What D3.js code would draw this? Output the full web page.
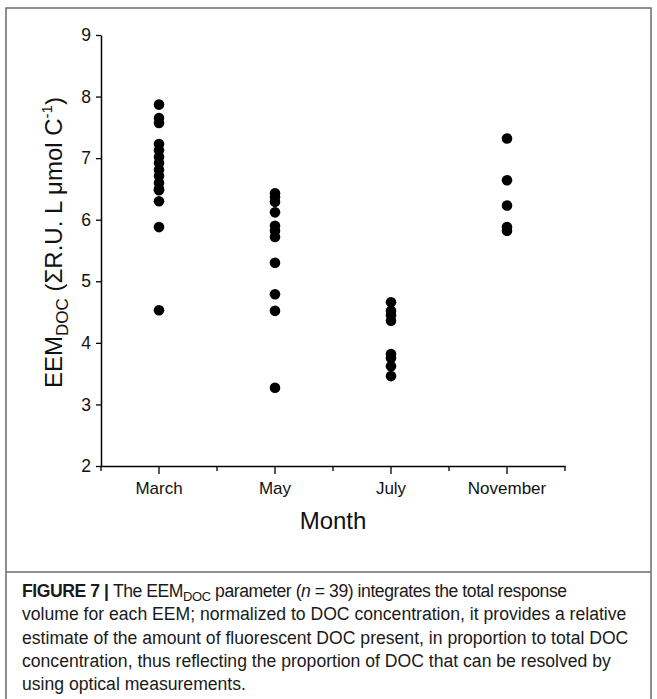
<!DOCTYPE html>
<html>
<head>
<meta charset="utf-8">
<script src="https://cdn.jsdelivr.net/npm/d3@7"></script>
<style>
  html, body { margin: 0; padding: 0; background: #fff; }
  svg { display: block; }
</style>
</head>
<body>
<svg id="chart" width="657" height="699"></svg>
<script>
const months = ["March", "May", "July", "November"];
const marchValues = [7.87, 7.65, 7.57, 7.23, 7.13, 7.02, 6.92, 6.81, 6.71, 6.60, 6.50, 6.48, 6.30, 5.88, 4.53];
const mayValues = [6.43, 6.37, 6.29, 6.12, 5.90, 5.82, 5.72, 5.30, 4.79, 4.52, 3.27];
const julyValues = [4.66, 4.52, 4.45, 4.36, 3.82, 3.75, 3.62, 3.46];
const novemberValues = [7.32, 6.64, 6.23, 5.88, 5.82];
const yTicks = [2, 3, 4, 5, 6, 7, 8, 9];
const xTitle = "Month";

const seriesByMonth = { March: marchValues, May: mayValues, July: julyValues, November: novemberValues };
const points = [];
months.forEach(m => seriesByMonth[m].forEach(v => points.push({ month: m, value: v })));

const svg = d3.select("#chart");
const font = "'Liberation Sans', Arial, sans-serif";

// frame
svg.append("rect").attr("x", 6).attr("y", 8).attr("width", 645).attr("height", 700)
  .attr("fill", "none").attr("stroke", "#6b6b6b").attr("stroke-width", 1.5);
svg.append("line").attr("x1", 6).attr("x2", 651).attr("y1", 572).attr("y2", 572)
  .attr("stroke", "#6b6b6b").attr("stroke-width", 1.5);

const pLeft = 101, pRight = 565, pTop = 35, pBottom = 466;
const x = d3.scaleBand().domain(months).range([pLeft, pRight]).padding(0);
const y = d3.scaleLinear().domain([2, 9]).range([pBottom, pTop]);

const g = svg.append("g");

// y axis
const yAxis = g.append("g").attr("transform", `translate(${pLeft},0)`)
  .call(d3.axisLeft(y).tickValues(yTicks).tickFormat(d3.format("d")).tickSize(5).tickSizeOuter(0));
yAxis.select(".domain").attr("stroke", "#000").attr("stroke-width", 1.5);
yAxis.selectAll(".tick line").attr("stroke", "#000").attr("stroke-width", 1.3);
yAxis.selectAll(".tick text").attr("font-family", font).attr("font-size", 17.5).attr("fill", "#111").attr("dx", -2);

// x axis: major ticks at category centres
const xAxis = g.append("g").attr("transform", `translate(0,${pBottom})`)
  .call(d3.axisBottom(x).tickSize(8).tickSizeOuter(0));
xAxis.select(".domain").attr("stroke", "#000").attr("stroke-width", 1.5);
xAxis.selectAll(".tick line").attr("stroke", "#000").attr("stroke-width", 1.3);
xAxis.selectAll(".tick text").attr("font-family", font).attr("font-size", 17).attr("fill", "#111").attr("dy", "1.0em");

// minor ticks at band boundaries
const edges = months.map(m => x(m)).concat([x(months[months.length - 1]) + x.bandwidth()]);
g.selectAll("line.minor").data(edges).enter().append("line")
  .attr("class", "minor")
  .attr("x1", d => d).attr("x2", d => d)
  .attr("y1", pBottom).attr("y2", pBottom + 5)
  .attr("stroke", "#000").attr("stroke-width", 1.3);

// points
g.selectAll("circle.pt").data(points).enter().append("circle")
  .attr("class", "pt")
  .attr("cx", d => x(d.month) + x.bandwidth() / 2)
  .attr("cy", d => y(d.value))
  .attr("r", 5.3)
  .attr("fill", "#000");

// x title
svg.append("text").attr("x", (pLeft + pRight) / 2).attr("y", 529)
  .attr("text-anchor", "middle").attr("font-family", font).attr("font-size", 24).attr("fill", "#111")
  .text(xTitle);

// y title
const yt = svg.append("text")
  .attr("transform", `translate(62,${(pTop + pBottom) / 2 - 8}) rotate(-90)`)
  .attr("text-anchor", "middle").attr("font-family", font).attr("font-size", 24).attr("fill", "#111");
yt.append("tspan").text("EEM");
yt.append("tspan").attr("font-size", 17).attr("dy", 6).text("DOC");
yt.append("tspan").attr("dy", -6).text(" (ΣR.U. L μmol C");
yt.append("tspan").attr("font-size", 15).attr("dy", -10).text("-1");
yt.append("tspan").attr("dy", 10).text(")");

// caption
const capFont = "'Liberation Sans', Arial, sans-serif";
const capX = 22, capY0 = 597, capDy = 23.3, capSize = 17.6;
const cap = svg.append("g").attr("font-family", capFont).attr("font-size", capSize).attr("fill", "#1a1a1a");
const l1 = cap.append("text").attr("x", capX).attr("y", capY0).attr("letter-spacing", -0.45);
l1.append("tspan").attr("font-weight", "bold").text("FIGURE 7 | ");
l1.append("tspan").text("The EEM");
l1.append("tspan").attr("font-size", 13).attr("dy", 4).text("DOC");
l1.append("tspan").attr("dy", -4).text(" parameter (");
l1.append("tspan").attr("font-style", "italic").text("n");
l1.append("tspan").text(" = 39) integrates the total response");
const restLines = [
  "volume for each EEM; normalized to DOC concentration, it provides a relative",
  "estimate of the amount of fluorescent DOC present, in proportion to total DOC",
  "concentration, thus reflecting the proportion of DOC that can be resolved by",
  "using optical measurements."
];
restLines.forEach((t, i) => {
  cap.append("text").attr("x", capX).attr("y", capY0 + capDy * (i + 1)).text(t);
});
</script>
</body>
</html>
